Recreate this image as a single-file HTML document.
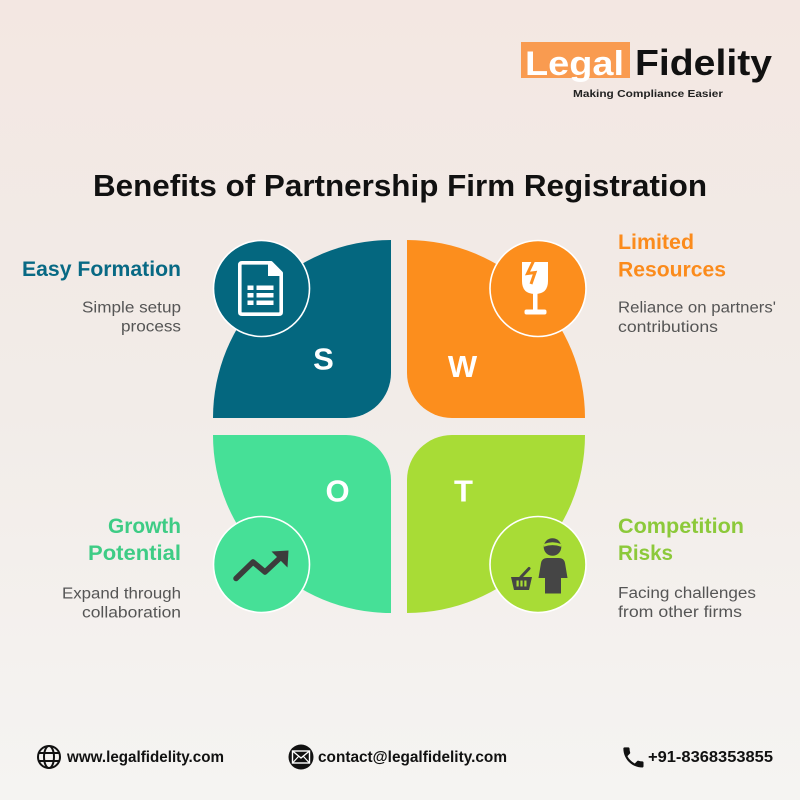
<!DOCTYPE html>
<html>
<head>
<meta charset="utf-8">
<style>
  html,body{margin:0;padding:0;}
  body{width:800px;height:800px;overflow:hidden;}
  svg{display:block;}
  text{font-family:"Liberation Sans",Arial,sans-serif;}
</style>
</head>
<body>
<svg width="800" height="800" viewBox="0 0 800 800" xmlns="http://www.w3.org/2000/svg">
  <defs>
    <linearGradient id="bg" x1="0" y1="0" x2="0" y2="1">
      <stop offset="0" stop-color="#f3e7e2"/>
      <stop offset="0.5" stop-color="#f2ece8"/>
      <stop offset="1" stop-color="#f5f4f2"/>
    </linearGradient>
  </defs>
  <rect x="0" y="0" width="800" height="800" fill="url(#bg)"/>

  <!-- Logo -->
  <rect x="521" y="42" width="109" height="36" fill="#f99b50"/>
  <text x="525" y="75" font-size="34" font-weight="bold" fill="#ffffff" textLength="99" lengthAdjust="spacingAndGlyphs">Legal</text>
  <text x="635" y="75" font-size="36" font-weight="bold" fill="#111111" textLength="137" lengthAdjust="spacingAndGlyphs">Fidelity</text>
  <text x="573" y="97" font-size="10" font-weight="bold" fill="#222222" textLength="150" lengthAdjust="spacingAndGlyphs">Making Compliance Easier</text>

  <!-- Title -->
  <text x="93" y="196" font-size="31" font-weight="bold" fill="#111111" textLength="614" lengthAdjust="spacingAndGlyphs">Benefits of Partnership Firm Registration</text>

  <!-- Quadrants -->
  <path d="M 213 418 A 178 178 0 0 1 391 240 L 391 373 A 45 45 0 0 1 346 418 Z" fill="#04677f"/>
  <path d="M 407 240 A 178 178 0 0 1 585 418 L 452 418 A 45 45 0 0 1 407 373 Z" fill="#fc8e1d"/>
  <path d="M 391 613 A 178 178 0 0 1 213 435 L 346 435 A 45 45 0 0 1 391 480 Z" fill="#46e097"/>
  <path d="M 585 435 A 178 178 0 0 1 407 613 L 407 480 A 45 45 0 0 1 452 435 Z" fill="#a8dc36"/>

  <!-- Icon circles -->
  <circle cx="261.5" cy="288.5" r="48" fill="#04677f" stroke="#ffffff" stroke-width="1.6"/>
  <circle cx="538" cy="288.5" r="48" fill="#fc8e1d" stroke="#ffffff" stroke-width="1.6"/>
  <circle cx="261.5" cy="564.5" r="48" fill="#46e097" stroke="#ffffff" stroke-width="1.6"/>
  <circle cx="538" cy="564.5" r="48" fill="#a8dc36" stroke="#ffffff" stroke-width="1.6"/>

  <!-- Letters -->
  <text x="323.5" y="369.5" font-size="31" font-weight="bold" fill="#ffffff" text-anchor="middle">S</text>
  <text x="462.5" y="377" font-size="31" font-weight="bold" fill="#ffffff" text-anchor="middle">W</text>
  <text x="337.5" y="501.5" font-size="31" font-weight="bold" fill="#ffffff" text-anchor="middle">O</text>
  <text x="463.5" y="501.5" font-size="31" font-weight="bold" fill="#ffffff" text-anchor="middle">T</text>

  <!-- Document icon (S) -->
  <path d="M 242 262.8 H 271 L 281.2 273 V 312 Q 281.2 314.2 279 314.2 H 242 Q 239.8 314.2 239.8 312 V 265 Q 239.8 262.8 242 262.8 Z" fill="none" stroke="#ffffff" stroke-width="3.6" stroke-linejoin="round"/>
  <path d="M 268 262 V 276 H 282 Z" fill="#ffffff"/>
  <rect x="247.5" y="285.5" width="6" height="4.5" fill="#ffffff"/>
  <rect x="256.5" y="285.5" width="17" height="4.5" fill="#ffffff"/>
  <rect x="247.5" y="293" width="6" height="4.5" fill="#ffffff"/>
  <rect x="256.5" y="293" width="17" height="4.5" fill="#ffffff"/>
  <rect x="247.5" y="300.5" width="6" height="4.5" fill="#ffffff"/>
  <rect x="256.5" y="300.5" width="17" height="4.5" fill="#ffffff"/>

  <!-- Broken glass icon (W) -->
  <path d="M 522 262 H 548 V 281 Q 548 294 535 294 Q 522 294 522 281 Z" fill="#ffffff"/>
  <rect x="533" y="292" width="4.5" height="19" fill="#ffffff"/>
  <rect x="524.5" y="309.5" width="22" height="5" rx="2" fill="#ffffff"/>
  <path d="M 534 260 L 527.5 273.5 L 535 272.5 L 531 284" fill="none" stroke="#fc8e1d" stroke-width="3" stroke-linejoin="miter"/>

  <!-- Trend arrow (O) -->
  <polyline points="236,578.5 253,562 265,572 281,557" fill="none" stroke="#3c3c3c" stroke-width="5.5" stroke-linecap="round" stroke-linejoin="round"/>
  <path d="M 271.5 551.5 L 288.5 550.5 L 287.5 567.5 Z" fill="#3c3c3c"/>

  <!-- Person with basket (T) -->
  <circle cx="552.5" cy="547" r="8.8" fill="#454545"/>
  <path d="M 543.8 544 Q 552.5 540.5 561.2 544 L 561.2 546.8 Q 552.5 543.5 543.8 546.8 Z" fill="#a8dc36"/>
  <path d="M 547 558 H 559 Q 564 558 565 563 L 567.5 578 H 561 V 593.5 H 545 V 578 H 538.5 L 541 563 Q 542 558 547 558 Z" fill="#454545"/>
  <path d="M 511 577 H 532 L 529 590 H 514 Z" fill="#454545"/>
  <rect x="516.5" y="580.5" width="2.2" height="6" fill="#a8dc36"/>
  <rect x="520.4" y="580.5" width="2.2" height="6" fill="#a8dc36"/>
  <rect x="524.3" y="580.5" width="2.2" height="6" fill="#a8dc36"/>
  <line x1="521" y1="577" x2="529" y2="568.5" stroke="#454545" stroke-width="3" stroke-linecap="round"/>

  <!-- Left-top text -->
  <text x="22" y="276" font-size="21" font-weight="bold" fill="#086984" textLength="159" lengthAdjust="spacingAndGlyphs">Easy Formation</text>
  <text x="82" y="312.5" font-size="15.5" fill="#555555" textLength="99" lengthAdjust="spacingAndGlyphs">Simple setup</text>
  <text x="121" y="331.5" font-size="15.5" fill="#555555" textLength="60" lengthAdjust="spacingAndGlyphs">process</text>

  <!-- Right-top text -->
  <text x="618" y="249" font-size="21" font-weight="bold" fill="#fb8b1c" textLength="76" lengthAdjust="spacingAndGlyphs">Limited</text>
  <text x="618" y="276.5" font-size="21" font-weight="bold" fill="#fb8b1c" textLength="108" lengthAdjust="spacingAndGlyphs">Resources</text>
  <text x="618" y="312.5" font-size="15.5" fill="#555555" textLength="158" lengthAdjust="spacingAndGlyphs">Reliance on partners'</text>
  <text x="618" y="332" font-size="15.5" fill="#555555" textLength="100" lengthAdjust="spacingAndGlyphs">contributions</text>

  <!-- Left-bottom text -->
  <text x="108" y="533" font-size="21" font-weight="bold" fill="#3ecc85" textLength="73" lengthAdjust="spacingAndGlyphs">Growth</text>
  <text x="88" y="560" font-size="21" font-weight="bold" fill="#3ecc85" textLength="93" lengthAdjust="spacingAndGlyphs">Potential</text>
  <text x="62" y="598.5" font-size="15.5" fill="#555555" textLength="119" lengthAdjust="spacingAndGlyphs">Expand through</text>
  <text x="82" y="617.5" font-size="15.5" fill="#555555" textLength="99" lengthAdjust="spacingAndGlyphs">collaboration</text>

  <!-- Right-bottom text -->
  <text x="618" y="533" font-size="21" font-weight="bold" fill="#8cc93a" textLength="126" lengthAdjust="spacingAndGlyphs">Competition</text>
  <text x="618" y="560" font-size="21" font-weight="bold" fill="#8cc93a" textLength="55" lengthAdjust="spacingAndGlyphs">Risks</text>
  <text x="618" y="598" font-size="15.5" fill="#555555" textLength="138" lengthAdjust="spacingAndGlyphs">Facing challenges</text>
  <text x="618" y="617" font-size="15.5" fill="#555555" textLength="124" lengthAdjust="spacingAndGlyphs">from other firms</text>

  <!-- Footer: globe -->
  <g fill="none" stroke="#111111" stroke-width="2">
    <circle cx="49" cy="757" r="11"/>
    <ellipse cx="49" cy="757" rx="5" ry="11"/>
    <line x1="38.5" y1="753" x2="59.5" y2="753"/>
    <line x1="38.5" y1="761" x2="59.5" y2="761"/>
  </g>
  <text x="67" y="762" font-size="16" font-weight="bold" fill="#111111" textLength="157" lengthAdjust="spacingAndGlyphs">www.legalfidelity.com</text>

  <!-- Footer: email -->
  <circle cx="301" cy="757" r="12.5" fill="#111111"/>
  <rect x="292.5" y="751" width="17" height="12" fill="none" stroke="#ffffff" stroke-width="1.4"/>
  <polyline points="292.5,751 301,758 309.5,751" fill="none" stroke="#ffffff" stroke-width="1.4"/>
  <line x1="292.5" y1="763" x2="298.5" y2="756.5" stroke="#ffffff" stroke-width="1.2"/>
  <line x1="309.5" y1="763" x2="303.5" y2="756.5" stroke="#ffffff" stroke-width="1.2"/>
  <text x="318" y="762" font-size="16" font-weight="bold" fill="#111111" textLength="189" lengthAdjust="spacingAndGlyphs">contact@legalfidelity.com</text>

  <!-- Footer: phone -->
  <g transform="translate(620,744) scale(1.12)">
    <path d="M6.62 10.79c1.44 2.83 3.76 5.14 6.59 6.59l2.2-2.2c.27-.27.67-.36 1.02-.24 1.12.37 2.33.57 3.570.57.55 0 1 .45 1 1V20c0 .55-.45 1-1 1-9.39 0-17-7.61-17-17 0-.55.45-1 1-1h3.5c.55 0 1 .45 1 1 0 1.25.2 2.45.57 3.570.11.35.03.74-.25 1.02l-2.2 2.2z" fill="#111111"/>
  </g>
  <text x="648" y="762" font-size="16" font-weight="bold" fill="#111111" textLength="125" lengthAdjust="spacingAndGlyphs">+91-8368353855</text>
</svg>
</body>
</html>
